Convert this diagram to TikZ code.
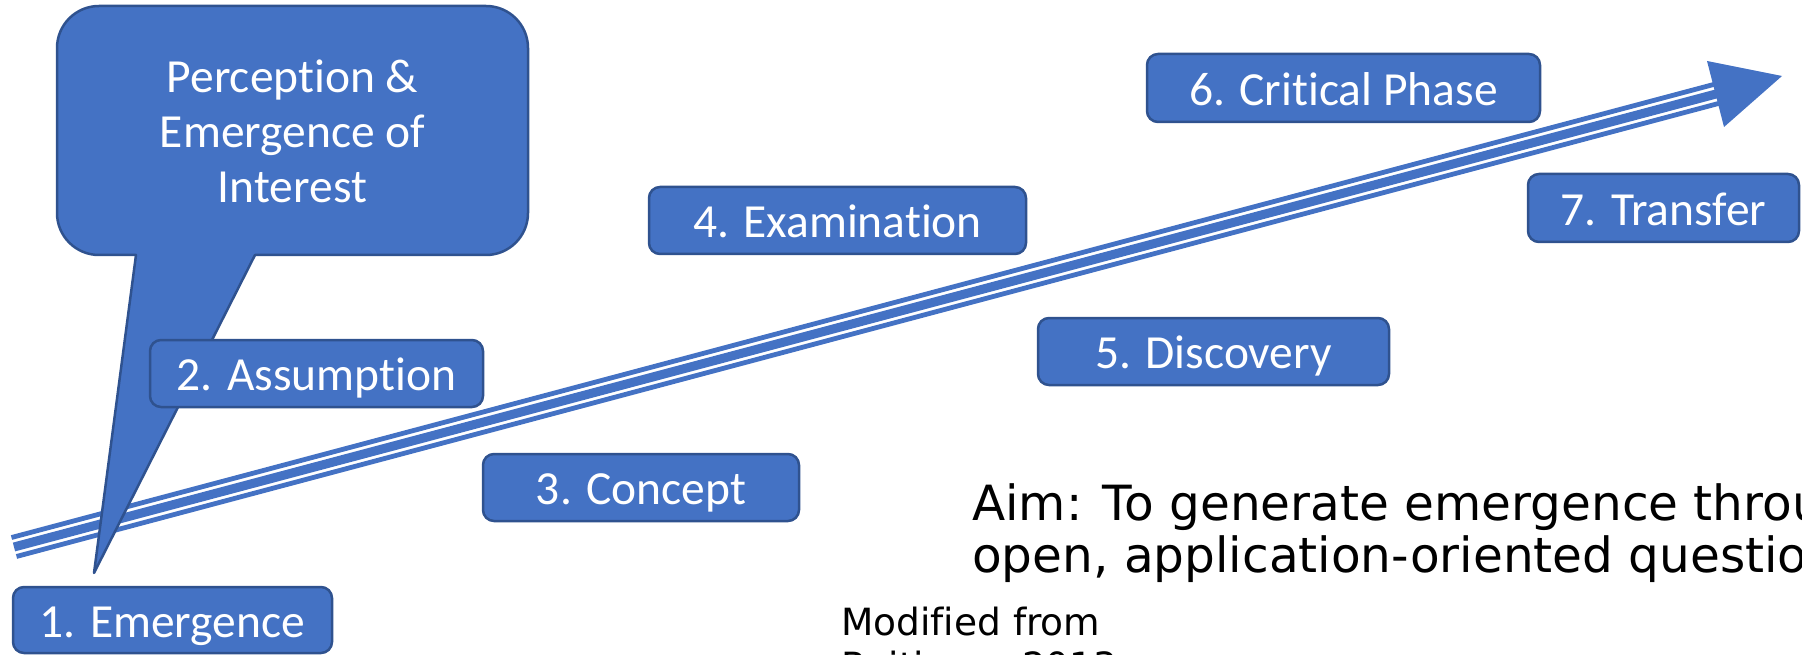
\documentclass[tikz,border=0pt]{standalone}
\usepackage{fontspec}
\setmainfont[Ligatures=NoCommon]{Carlito}
\newfontfamily\aimfont[Ligatures=NoCommon]{DejaVu Sans}
\usetikzlibrary{calc}
\definecolor{stageblue}{HTML}{4472C4}
\definecolor{stageedge}{HTML}{2F528F}
\tikzset{
  stagebox/.style={draw=stageedge, fill=stageblue, line width=2.5pt,
    rounded corners=11pt, text=white, font=\fontsize{47.5}{55}\selectfont,
    inner sep=0pt, text height=34.5pt, text depth=0pt},
  trackline/.style={draw=stageblue},
  plaintext/.style={anchor=north west, inner sep=0pt, align=left, text=black},
}
\begin{document}
\begin{tikzpicture}[x=1pt,y=-1pt]
\useasboundingbox (0,0) rectangle (1802,655);
\clip (0,0) rectangle (1802,655);

% triple-line progression arrow (thin - thick - thin)
\coordinate (S) at (14,547);
\coordinate (E) at (1716,94);
\coordinate (T) at (1782,76);
\coordinate (B1) at (1707,61);
\coordinate (B2) at (1724,127);
\draw[trackline, line width=9pt] (S) -- (E);
\draw[trackline, line width=4.8pt] ($(S)!9.8pt!90:(E)$) -- ($(E)!9.8pt!-90:(S)$);
\draw[trackline, line width=4.8pt] ($(S)!9.8pt!-90:(E)$) -- ($(E)!9.8pt!90:(S)$);
\fill[stageblue] (B1) -- (T) -- (B2) -- cycle;

% speech-bubble callout with its pointer
\draw[draw=stageedge, fill=stageblue, line width=2.5pt, line join=round]
  (255,255) -- (486,255) arc[start angle=90, end angle=0, radius=42]
  -- (528,48) arc[start angle=0, end angle=-90, radius=42]
  -- (99,6) arc[start angle=-90, end angle=-180, radius=42]
  -- (57,213) arc[start angle=180, end angle=90, radius=42]
  -- (136,255) -- (94,573) -- cycle;
\node[font=\fontsize{47.5}{55}\selectfont, text=white, align=center,
      anchor=north, inner sep=0pt] (interest) at (292.5,59.5)
  {Perception \&\\Emergence of\\Interest};

% the seven stages
\node[stagebox, minimum width=319pt, minimum height=66pt] (emergence)   at (172.5,620)  {1. Emergence};
\node[stagebox, minimum width=333pt, minimum height=67pt] (assumption)  at (316.5,373.5) {2. Assumption};
\node[stagebox, minimum width=316pt, minimum height=67pt] (concept)     at (641,487.5)  {3. Concept};
\node[stagebox, minimum width=377pt, minimum height=67pt] (examination) at (837.5,220.5) {4. Examination};
\node[stagebox, minimum width=351pt, minimum height=67pt] (discovery)   at (1213.5,351.5) {5. Discovery};
\node[stagebox, minimum width=393pt, minimum height=68pt] (critical)    at (1343.5,88)  {6. Critical Phase};
\node[stagebox, minimum width=271pt, minimum height=68pt] (transfer)    at (1663.5,208) {7. Transfer};

% aim statement and source
\node[plaintext, font=\aimfont\fontsize{48.5}{52}\selectfont] (aim) at (972,483)
  {Aim: To generate emergence through\\open, application-oriented questions};
\node[plaintext, font=\aimfont\fontsize{37.5}{44}\selectfont] (source) at (841,607)
  {Modified from\\Reitinger 2013};
\end{tikzpicture}
\end{document}
